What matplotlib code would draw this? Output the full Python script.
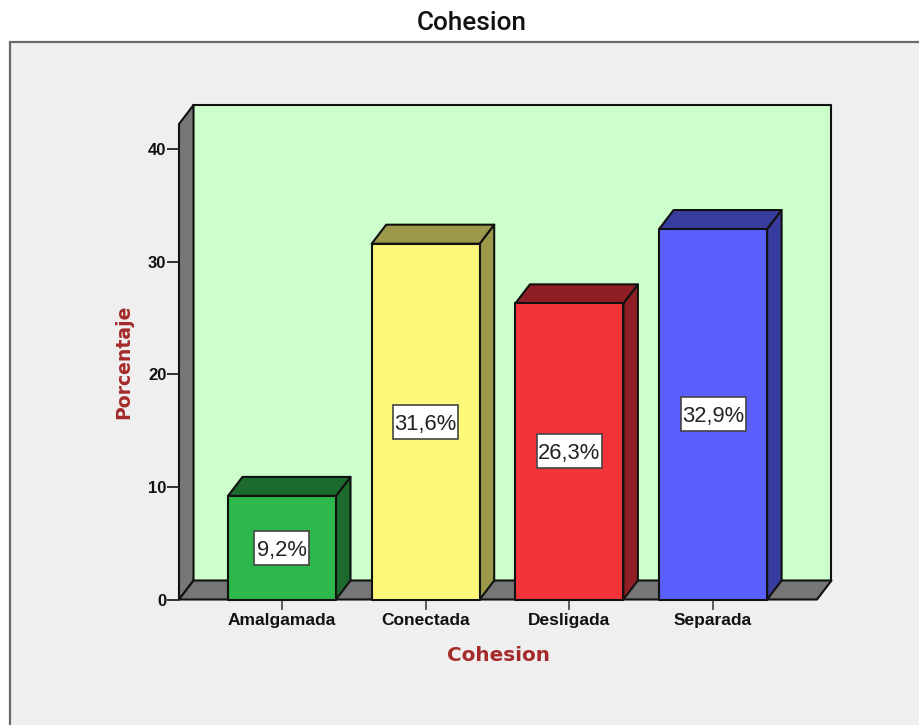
import matplotlib
matplotlib.use("Agg")
import matplotlib.pyplot as plt
from matplotlib.patches import Polygon, Rectangle

categories = ["Amalgamada", "Conectada", "Desligada", "Separada"]
values = [9.2, 31.6, 26.3, 32.9]
labels = ["9,2%", "31,6%", "26,3%", "32,9%"]
y_ticks = [0, 10, 20, 30, 40]
front_colors = ["#2DB84B", "#FCF87A", "#F23339", "#5A60FF"]
top_colors = ["#1C6B2C", "#9C9A4A", "#8F1F24", "#383C9E"]
side_colors = ["#1C6B2C", "#9C9A4A", "#8F1F24", "#383C9E"]

W, H = 920, 725
fig = plt.figure(figsize=(W / 100, H / 100), dpi=100, facecolor="white")
plt.rcParams["font.family"] = ["Liberation Sans", "DejaVu Sans"]

# background frame
bg = fig.add_axes([0, 0, 1, 1])
bg.set_xlim(0, W); bg.set_ylim(H, 0); bg.axis("off")
bg.add_patch(Rectangle((10.5, 42), W + 20, H, fc="#EFEFEF", ec="#6A6A6A", lw=1.6))
bg.text(471.5, 22.5, "Cohesion", ha="center", va="center", fontsize=18.8, color="#111111",
        fontweight="medium", family=["Roboto"])

# plot axes: front plane
L, R, B, T = 179.0, 817.0, 599.5, 124.0
ax = fig.add_axes([L / W, 1 - B / H, (R - L) / W, (B - T) / H])
ax.patch.set_alpha(0)
px_per_cat = 143.7
px_per_val = 11.26
ax.set_xlim((L - 282) / px_per_cat, (R - 282) / px_per_cat)
ax.set_ylim(0, (B - T) / px_per_val)
dx = 14.5 / px_per_cat
dy = 19 / px_per_val
x0, x1 = ax.get_xlim()
y0, y1 = ax.get_ylim()
edge = "#111111"
kw = dict(ec=edge, lw=1.5, clip_on=False, joinstyle="round")

# back wall, side wall, floor
ax.add_patch(Polygon([(x0 + dx, y0 + dy), (x1 + dx, y0 + dy), (x1 + dx, y1 + dy), (x0 + dx, y1 + dy)],
                     fc="#CCFFCC", zorder=1, **kw))
ax.add_patch(Polygon([(x0, y0), (x0 + dx, y0 + dy), (x0 + dx, y1 + dy), (x0, y1)],
                     fc="#767676", zorder=1, **kw))
ax.add_patch(Polygon([(x0, y0), (x1, y0), (x1 + dx, y0 + dy), (x0 + dx, y0 + dy)],
                     fc="#767676", zorder=1, **kw))

bw = 108 / px_per_cat
box_h = 34 / px_per_val
for i, v in enumerate(values):
    a, b = i - bw / 2, i + bw / 2
    ax.add_patch(Polygon([(b, 0), (b + dx, dy), (b + dx, v + dy), (b, v)], fc=side_colors[i], zorder=3 + i, **kw))
    ax.add_patch(Polygon([(a, v), (b, v), (b + dx, v + dy), (a + dx, v + dy)], fc=top_colors[i], zorder=3 + i, **kw))
    ax.add_patch(Polygon([(a, 0), (b, 0), (b, v), (a, v)], fc=front_colors[i], zorder=3 + i, **kw))
    box_w = (55 if len(labels[i]) == 4 else 65) / px_per_cat
    ax.add_patch(Rectangle((i - box_w / 2, v / 2 - box_h / 2), box_w, box_h, fc="white", ec="#444444",
                           lw=1.2, zorder=19))
    ax.text(i, v / 2, labels[i], ha="center", va="center_baseline", fontsize=15.8, color="#222222", zorder=20)

for s in ax.spines.values():
    s.set_visible(False)
ax.set_xticks(range(len(categories)))
ax.set_xticklabels(categories, fontsize=12.5, fontweight="bold", color="#111111")
ax.set_yticks(y_ticks)
ax.set_yticklabels([str(t) for t in y_ticks], fontsize=12, fontweight="bold", color="#111111")
ax.tick_params(axis="x", length=7.5, width=1.2, color="#444444", pad=2.5)
ax.tick_params(axis="y", length=8.5, width=1.3, color="#222222", pad=0.5)

bg.text(498.5, 655.5, "Cohesion", ha="center", va="center", fontsize=14.4, fontweight="bold",
        color="#A52A2A", family=["DejaVu Sans"])
bg.text(124, 362, "Porcentaje", ha="center", va="center", rotation=90, fontsize=13.6, fontweight="bold",
        color="#A52A2A", family=["DejaVu Sans"])

fig.savefig("out.png", dpi=100)
